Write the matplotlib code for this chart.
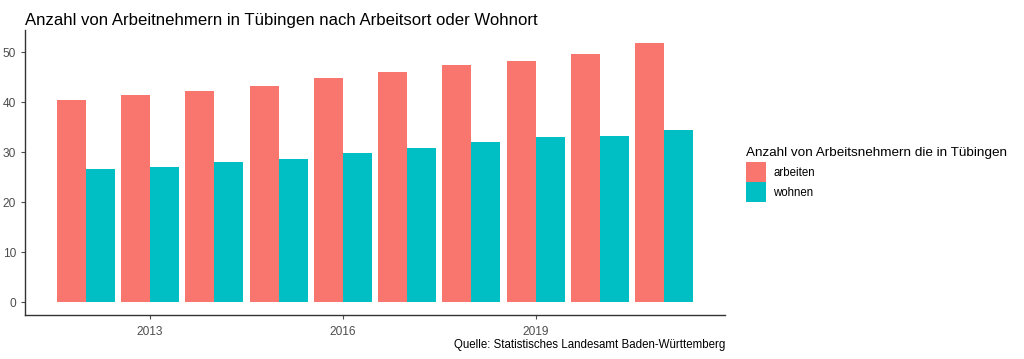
import matplotlib.pyplot as plt
import numpy as np

plt.rcParams['font.family'] = ['Liberation Sans', 'DejaVu Sans']

years = [2012, 2013, 2014, 2015, 2016, 2017, 2018, 2019, 2020, 2021]
arbeiten = [40.5, 41.4, 42.3, 43.2, 44.8, 46.1, 47.4, 48.3, 49.6, 51.8]
wohnen = [26.7, 27.1, 28.0, 28.6, 29.9, 30.8, 32.1, 33.0, 33.3, 34.4]
tick_years = [2013, 2016, 2019]
yticks = [0, 10, 20, 30, 40, 50]

red = "#F8766D"
teal = "#00BFC4"

fig = plt.figure(figsize=(10.24, 3.59), dpi=100)
ax = fig.add_axes([25/1024, 1 - 315/359, 700/1024, (315 - 30.5)/359])

x = np.array(years)
w = 0.45
ax.bar(x - w/2, arbeiten, width=w, color=red, edgecolor="none", label="arbeiten")
ax.bar(x + w/2, wohnen, width=w, color=teal, edgecolor="none", label="wohnen")

ax.set_xlim(2011.055, 2021.945)
ax.set_ylim(-2.59, 54.39)
ax.set_xticks(tick_years)
ax.set_xticklabels([str(t) for t in tick_years])
ax.set_yticks(yticks)
for s in ["top", "right"]:
    ax.spines[s].set_visible(False)
for s in ["left", "bottom"]:
    ax.spines[s].set_color("#333333")
    ax.spines[s].set_linewidth(1.0)
ax.tick_params(colors="#4D4D4D", labelsize=8.6, length=3, width=0.8)
ax.tick_params(axis="x", pad=5)

fig.text(25/1024, 1 - 25/359, "Anzahl von Arbeitnehmern in Tübingen nach Arbeitsort oder Wohnort",
         fontsize=12.1, ha="left", va="baseline", color="black")
fig.text(725/1024, 1 - 345/359, "Quelle: Statistisches Landesamt Baden-Württemberg",
         fontsize=8.3, ha="right", va="center", color="black")

leg = fig.legend(loc="upper left", bbox_to_anchor=(737/1024, 1 - 138/359),
                 title="Anzahl von Arbeitsnehmern die in Tübingen",
                 frameon=False, fontsize=8.3, title_fontsize=9.7,
                 handlelength=1.75, handleheight=2.3, handletextpad=0.6,
                 labelspacing=0.0, borderpad=0.3)
leg._legend_box.align = "left"
leg._legend_box.sep = 2

fig.savefig("out.png", dpi=100)
